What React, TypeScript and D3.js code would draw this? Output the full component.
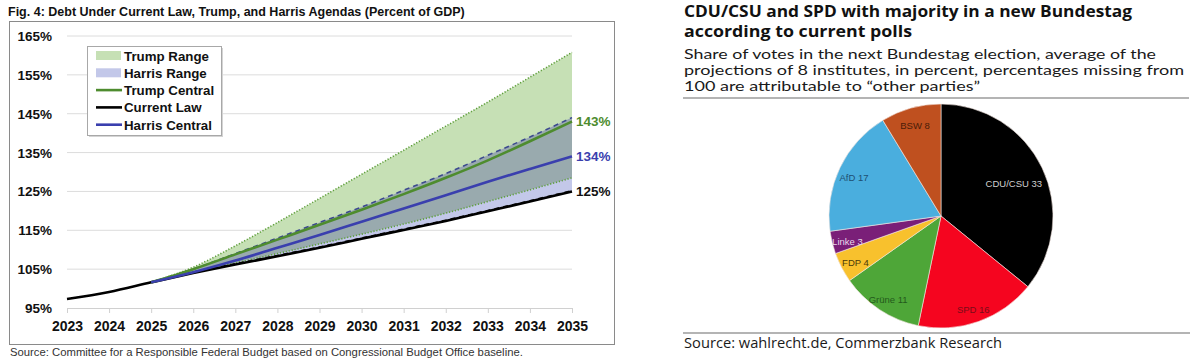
import React, { useEffect, useRef } from 'react';
import * as d3 from 'd3';

const W = 1194;
const H = 360;

// left chart data (percent of GDP)
const years = [2023, 2024, 2025, 2026, 2027, 2028, 2029, 2030, 2031, 2032, 2033, 2034, 2035];
const projYears = [2025, 2026, 2027, 2028, 2029, 2030, 2031, 2032, 2033, 2034, 2035];
const currentLaw = [97.3, 99.1, 101.6, 104, 106.2, 108.3, 110.5, 112.8, 115.1, 117.4, 119.9, 122.4, 125];
const trumpCentral = [101.6, 105, 108.8, 112.6, 116.4, 120.3, 124.3, 128.5, 133, 137.9, 143];
const harrisCentral = [101.6, 104.2, 107.2, 110.5, 113.8, 117.2, 120.6, 124, 127.5, 130.8, 134];
const trumpHigh = [101.6, 105.5, 111, 117, 123.2, 129.4, 135.6, 141.8, 148, 154.4, 160.8];
const trumpLow = [101.6, 104.2, 106.6, 109, 111.5, 114, 116.6, 119.4, 122.4, 125.4, 128.5];
const harrisHigh = [101.6, 105, 109, 113, 117, 121, 125.3, 129.6, 134.3, 139, 144];
const harrisLow = [101.6, 104.2, 106.4, 108.5, 110.7, 113, 115.3, 117.6, 120.1, 122.6, 125.2];
const yTicks = [95, 105, 115, 125, 135, 145, 155, 165];
const endLabels = ['143%', '134%', '125%'];

const legendItems = ['Trump Range', 'Harris Range', 'Trump Central', 'Current Law', 'Harris Central'];

// right chart data
const parties = ['CDU/CSU', 'SPD', 'Grüne', 'FDP', 'Linke', 'AfD', 'BSW'];
const shares = [33, 16, 11, 4, 3, 17, 8];
const partyColors = ['#000000', '#f5051f', '#4ea638', '#f8c12d', '#7a1f78', '#4aaede', '#bf501f'];
const labelColors = ['#d0d0d0', '#7a0c18', '#245a1c', '#4a3a08', '#e8d8ea', '#1e4e72', '#4a1c08'];

const titleLines = ['CDU/CSU and SPD with majority in a new Bundestag', 'according to current polls'];
const subtitleLines = [
  'Share of votes in the next Bundestag election, average of the',
  'projections of 8 institutes, in percent, percentages missing from',
  '100 are attributable to \u201cother parties\u201d',
];

const GREEN = '#4e8c2e';
const BLUE = '#3a3fae';
const TRUMP_FILL = '#c6e0b5';
const HARRIS_FILL = '#c3c8e9';
const OVERLAP_FILL = '#99aaae';

function App() {
  const ref = useRef<SVGSVGElement | null>(null);

  useEffect(() => {
    const svg = d3.select(ref.current);
    svg.selectAll('*').remove();

    // ---------- left chart ----------
    const font = "'Liberation Sans', Arial, sans-serif";
    const x = d3.scaleLinear().domain([2023, 2035]).range([67, 572]);
    const y = d3.scaleLinear().domain([95, 165]).range([308, 36]);

    svg
      .append('text')
      .attr('x', 8)
      .attr('y', 16)
      .attr('font-family', font)
      .attr('font-weight', 'bold')
      .attr('font-size', 12.5)
      .attr('fill', '#111')
      .text('Fig. 4: Debt Under Current Law, Trump, and Harris Agendas (Percent of GDP)');

    svg
      .append('rect')
      .attr('x', 9.5)
      .attr('y', 21.5)
      .attr('width', 605)
      .attr('height', 323)
      .attr('fill', '#fff')
      .attr('stroke', '#8a8a8a');

    svg
      .append('text')
      .attr('x', 10)
      .attr('y', 356)
      .attr('font-family', font)
      .attr('font-size', 11.3)
      .attr('fill', '#333')
      .text('Source: Committee for a Responsible Federal Budget based on Congressional Budget Office baseline.');

    // grid
    svg
      .append('g')
      .selectAll('line')
      .data(yTicks.slice(1))
      .enter()
      .append('line')
      .attr('x1', x(2023))
      .attr('x2', x(2035))
      .attr('y1', (d) => y(d))
      .attr('y2', (d) => y(d))
      .attr('stroke', '#dcdcdc');

    // x axis
    const xAxis = svg
      .append('g')
      .attr('transform', `translate(0, ${y(95)})`)
      .call(d3.axisBottom(x).tickValues(years).tickFormat(d3.format('d')).tickSizeOuter(0).tickSize(5).tickPadding(8));
    xAxis.select('.domain').attr('stroke', '#d0d0d0');
    xAxis.selectAll('.tick line').attr('stroke', '#d0d0d0');
    xAxis
      .selectAll('.tick text')
      .attr('font-family', font)
      .attr('font-weight', 'bold')
      .attr('font-size', 14)
      .attr('fill', '#111');

    // y labels
    svg
      .append('g')
      .selectAll('text')
      .data(yTicks)
      .enter()
      .append('text')
      .attr('x', 52)
      .attr('y', (d) => y(d) + 5)
      .attr('text-anchor', 'end')
      .attr('font-family', font)
      .attr('font-weight', 'bold')
      .attr('font-size', 13.5)
      .attr('fill', '#111')
      .text((d) => `${d}%`);

    const band = (lo: number[], hi: number[]) =>
      d3
        .area<number>()
        .x((_, i) => x(projYears[i]))
        .y0((_, i) => y(lo[i]))
        .y1((d) => y(d))
        .curve(d3.curveMonotoneX)(hi);

    svg.append('path').attr('d', band(trumpLow, trumpHigh)).attr('fill', TRUMP_FILL);
    svg.append('path').attr('d', band(harrisLow, harrisHigh)).attr('fill', HARRIS_FILL);
    svg.append('path').attr('d', band(trumpLow, harrisHigh)).attr('fill', OVERLAP_FILL);

    const proj = d3
      .line<number>()
      .x((_, i) => x(projYears[i]))
      .y((d) => y(d))
      .curve(d3.curveMonotoneX);
    const full = d3
      .line<number>()
      .x((_, i) => x(years[i]))
      .y((d) => y(d))
      .curve(d3.curveMonotoneX);

    const bounds: [number[], string, string][] = [
      [trumpHigh, '#5f9f3c', '1.2 1.8'],
      [trumpLow, '#5f9f3c', '1.2 1.8'],
      [harrisHigh, '#3c4a8e', '5 4'],
      [harrisLow, '#111', '5 4'],
    ];
    bounds.forEach(([vals, color, dash]) => {
      svg
        .append('path')
        .attr('d', proj(vals))
        .attr('fill', 'none')
        .attr('stroke', color)
        .attr('stroke-width', 1.6)
        .attr('stroke-dasharray', dash);
    });

    svg.append('path').attr('d', full(currentLaw)).attr('fill', 'none').attr('stroke', '#000').attr('stroke-width', 2.6);
    svg.append('path').attr('d', proj(trumpCentral)).attr('fill', 'none').attr('stroke', GREEN).attr('stroke-width', 2.6);
    svg.append('path').attr('d', proj(harrisCentral)).attr('fill', 'none').attr('stroke', BLUE).attr('stroke-width', 2.6);

    // end labels
    const ends = [trumpCentral[10], harrisCentral[10], currentLaw[12]];
    const endColors = [GREEN, BLUE, '#111'];
    svg
      .append('g')
      .selectAll('text')
      .data(ends)
      .enter()
      .append('text')
      .attr('x', x(2035) + 4)
      .attr('y', (d) => y(d) + 5)
      .attr('font-family', font)
      .attr('font-weight', 'bold')
      .attr('font-size', 13.5)
      .attr('fill', (_, i) => endColors[i])
      .text((_, i) => endLabels[i]);

    // legend
    const lg = svg.append('g').attr('transform', 'translate(87, 46)');
    lg.append('rect').attr('x', 2).attr('y', 2).attr('width', 134).attr('height', 89).attr('fill', '#d4d4d4');
    lg.append('rect').attr('x', 0.5).attr('y', 0.5).attr('width', 134).attr('height', 89).attr('fill', '#fff').attr('stroke', '#a8a8a8');
    const swatch = [TRUMP_FILL, HARRIS_FILL, GREEN, '#000', BLUE];
    legendItems.forEach((name, i) => {
      const cy = 9.5 + i * 17.3;
      if (i < 2) {
        lg.append('rect').attr('x', 9).attr('y', cy - 4.5).attr('width', 25).attr('height', 9).attr('fill', swatch[i]);
      } else {
        lg.append('line').attr('x1', 9).attr('x2', 35).attr('y1', cy).attr('y2', cy).attr('stroke', swatch[i]).attr('stroke-width', 2.6);
      }
      lg.append('text')
        .attr('x', 37)
        .attr('y', cy + 5)
        .attr('font-family', font)
        .attr('font-weight', 'bold')
        .attr('font-size', 13.3)
        .attr('fill', '#111')
        .text(name);
    });

    // ---------- right chart ----------
    const rfont = "'Open Sans', 'Noto Sans', sans-serif";
    const titleWidths = [448, 228];
    titleLines.forEach((t, i) => {
      svg
        .append('text')
        .attr('x', 684)
        .attr('y', 17 + i * 20)
        .attr('font-family', rfont)
        .attr('font-weight', 'bold')
        .attr('font-size', 15.5)
        .attr('fill', '#111')
        .attr('textLength', titleWidths[i])
        .attr('lengthAdjust', 'spacingAndGlyphs')
        .text(t);
    });
    const subWidths = [472, 500, 296];
    subtitleLines.forEach((t, i) => {
      svg
        .append('text')
        .attr('x', 684)
        .attr('y', 59 + i * 16.2)
        .attr('font-family', 'Lato, sans-serif')
        .attr('font-size', 13.4)
        .attr('fill', '#1a1a1a')
        .attr('textLength', subWidths[i])
        .attr('lengthAdjust', 'spacingAndGlyphs')
        .text(t);
    });
    svg.append('line').attr('x1', 683).attr('x2', 1189).attr('y1', 98).attr('y2', 98).attr('stroke', '#b4b4b4').attr('stroke-width', 2);
    svg.append('line').attr('x1', 683).attr('x2', 1190).attr('y1', 333).attr('y2', 333).attr('stroke', '#b4b4b4').attr('stroke-width', 2);
    svg
      .append('text')
      .attr('x', 684)
      .attr('y', 348)
      .attr('font-family', rfont)
      .attr('font-size', 14.5)
      .attr('fill', '#1a1a1a')
      .attr('textLength', 318)
      .attr('lengthAdjust', 'spacingAndGlyphs')
      .text('Source: wahlrecht.de, Commerzbank Research');

    const R = 112;
    const total = d3.sum(shares);
    const pie = d3.pie<number>().sort(null).value((d) => d)(shares);
    const arc = d3.arc<d3.PieArcDatum<number>>().innerRadius(0).outerRadius(R);
    const pg = svg.append('g').attr('transform', 'translate(941, 216)');
    pg.selectAll('path')
      .data(pie)
      .enter()
      .append('path')
      .attr('d', arc)
      .attr('fill', (_, i) => partyColors[i])
      .attr('stroke', '#f4e6e0')
      .attr('stroke-width', 0.6);
    pg.selectAll('text')
      .data(pie)
      .enter()
      .append('text')
      .attr('transform', (d) => {
        const r = d.value / total > 0.3 ? R * 0.72 : R * 0.86;
        const a = (d.startAngle + d.endAngle) / 2;
        return `translate(${Math.sin(a) * r}, ${-Math.cos(a) * r + 6})`;
      })
      .attr('text-anchor', 'middle')
      .attr('font-family', font)
      .attr('font-size', 9.5)
      .attr('fill', (_, i) => labelColors[i])
      .text((d, i) => `${parties[i]} ${d.value}`);
  }, []);

  return <svg ref={ref} width={W} height={H} style={{ position: 'absolute', left: 0, top: 0, background: '#fff' }} />;
}

export default App;
